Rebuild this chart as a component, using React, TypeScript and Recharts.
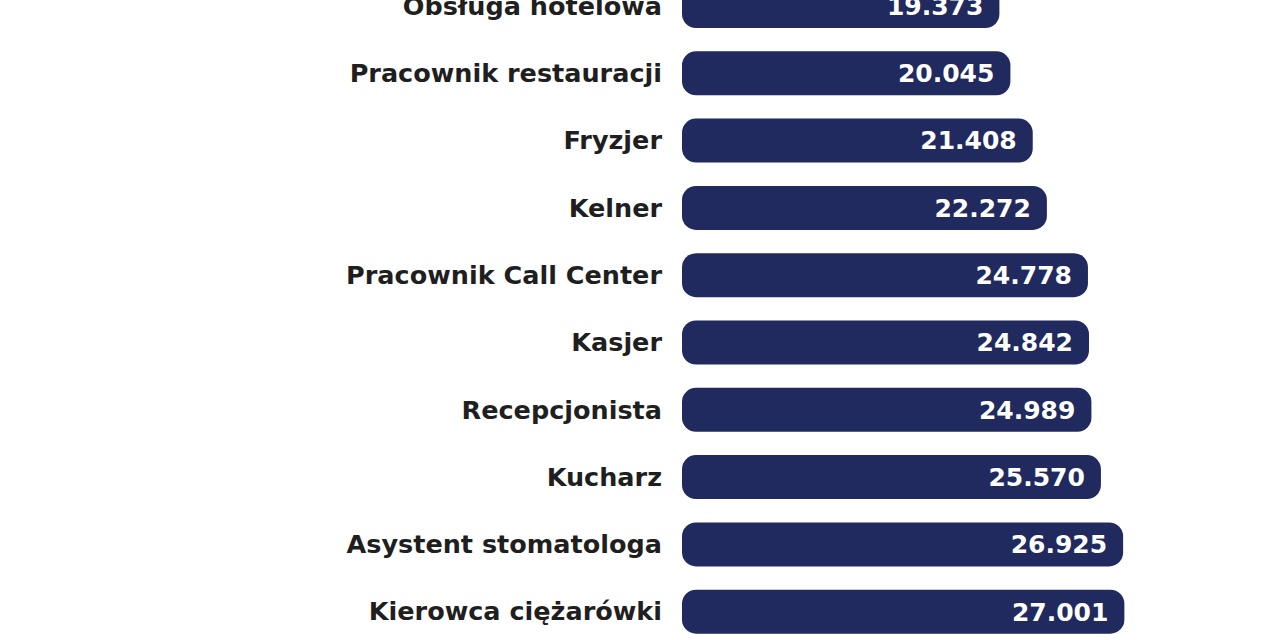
import { BarChart, Bar, XAxis, YAxis, LabelList } from 'recharts';

const professions = [
  'Obsługa hotelowa',
  'Pracownik restauracji',
  'Fryzjer',
  'Kelner',
  'Pracownik Call Center',
  'Kasjer',
  'Recepcjonista',
  'Kucharz',
  'Asystent stomatologa',
  'Kierowca ciężarówki',
];

const salaries = [19373, 20045, 21408, 22272, 24778, 24842, 24989, 25570, 26925, 27001];

const data = professions.map((name, i) => ({ name, value: salaries[i] }));

// 19373 -> "19.373"
const formatValue = (v: number) => String(v).replace(/\B(?=(\d{3})+(?!\d))/g, '.');

const FONT = '"DejaVu Sans", Verdana, sans-serif';

export default function App() {
  return (
    <div style={{ position: 'absolute', left: 0, top: -28, width: 1280, height: 673, background: '#fff' }}>
      <BarChart
        width={1280}
        height={673}
        data={data}
        layout="vertical"
        margin={{ top: 0, right: 0, bottom: 0, left: 0 }}
      >
        <XAxis type="number" domain={[0, 36500]} hide />
        <YAxis
          type="category"
          dataKey="name"
          width={682}
          axisLine={false}
          tickLine={false}
          tickSize={0}
          tickMargin={20}
          interval={0}
          tick={{ fill: '#1f1f1f', fontSize: 25.5, fontWeight: 'bold', fontFamily: FONT }}
        />
        <Bar dataKey="value" fill="#202a5e" barSize={44} radius={14} isAnimationActive={false}>
          <LabelList
            dataKey="value"
            position="insideRight"
            offset={16}
            formatter={(v: any) => formatValue(Number(v))}
            style={{ fill: '#ffffff', fontSize: 25, fontWeight: 'bold', fontFamily: FONT }}
          />
        </Bar>
      </BarChart>
    </div>
  );
}
